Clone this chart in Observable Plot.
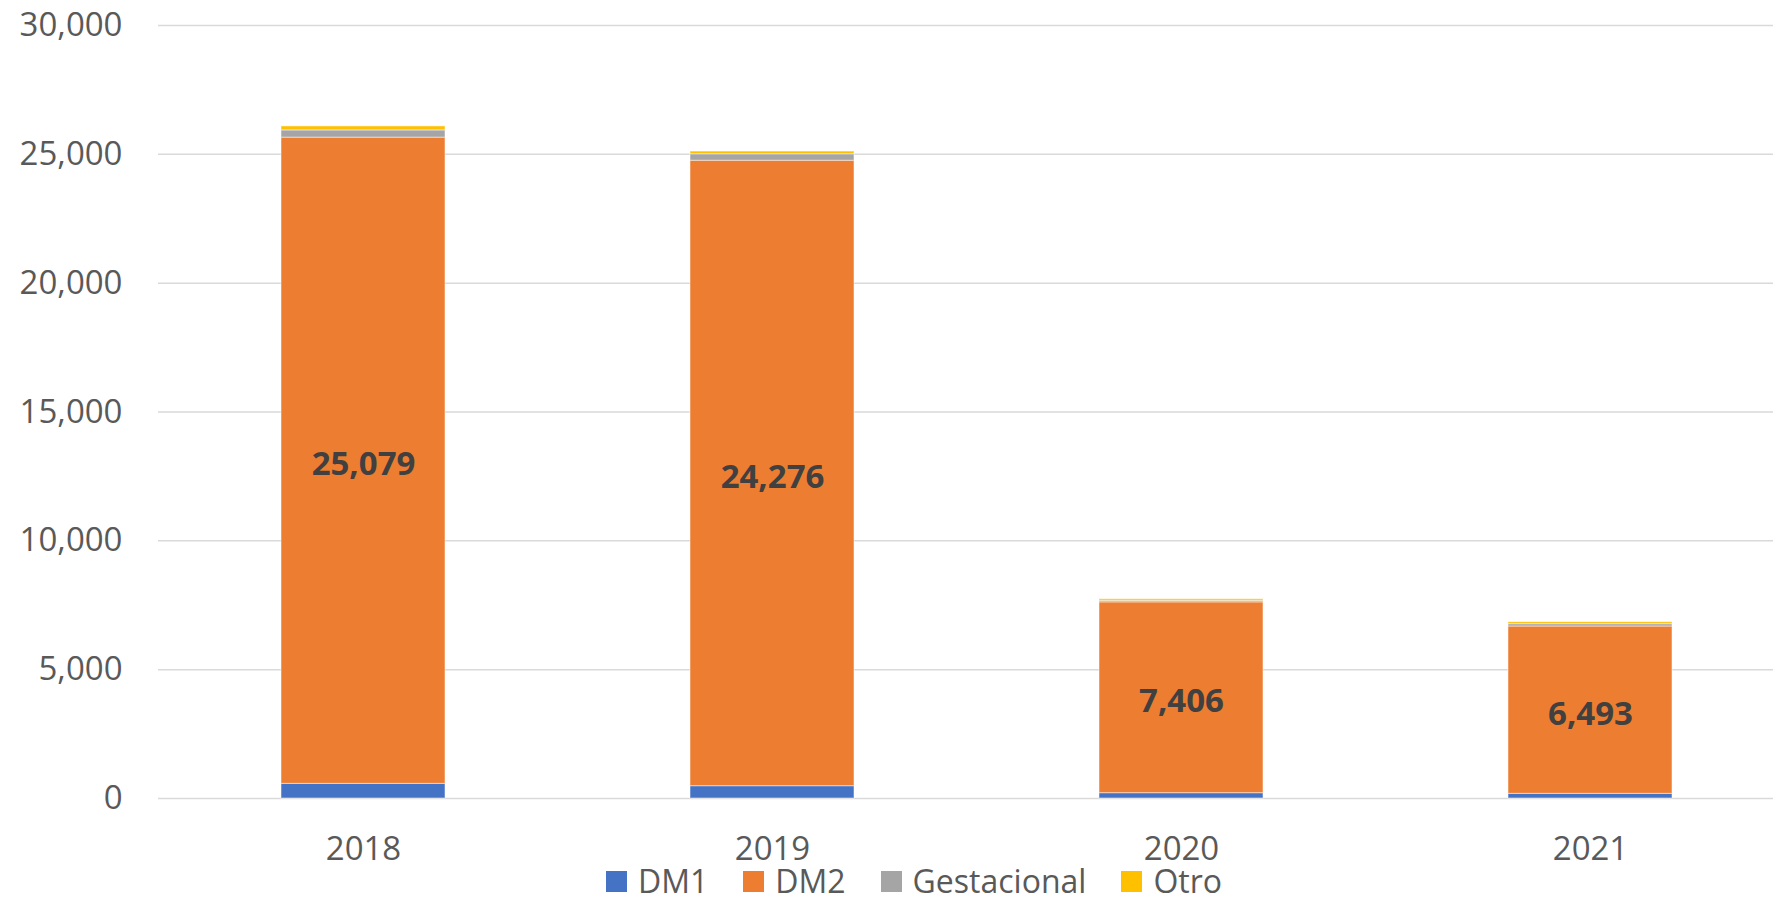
<!DOCTYPE html>
<html><head><meta charset="utf-8">
<script src="https://cdn.jsdelivr.net/npm/d3@7"></script>
<script src="https://cdn.jsdelivr.net/npm/@observablehq/plot@0.6"></script>
<style>
body{margin:0;background:#fff;font-family:"Open Sans",sans-serif;}
#chart{position:relative;width:1776px;height:899px;overflow:hidden;}
#chart svg{position:absolute;top:0;left:0;}
.legend{position:absolute;top:864px;left:606px;height:34px;display:flex;justify-content:flex-start;align-items:center;font-size:32px;line-height:1;color:#595959;white-space:nowrap;}
.item{display:flex;align-items:center;margin-right:35px;}
.sw{display:inline-block;width:21px;height:21px;margin-right:11px;}
</style></head><body><div id="chart"></div>
<script>
const years = ["2018", "2019", "2020", "2021"];
const series = ["DM1", "DM2", "Gestacional", "Otro"];
const dm1 = [570, 477, 206, 182];
const dm2 = [25079, 24276, 7406, 6493];
const gestacional = [280, 250, 60, 90];
const otro = [155, 105, 60, 77];
const colors = ["#4472C4", "#ED7D31", "#A5A5A5", "#FFC000"];
const yTicks = [0, 5000, 10000, 15000, 20000, 25000, 30000];

const values = {DM1: dm1, DM2: dm2, Gestacional: gestacional, Otro: otro};
const rows = years.flatMap((yr, i) => series.map(s => ({year: yr, series: s, value: values[s][i]})));
const labels = years.map((yr, i) => ({year: yr, y: dm1[i] + dm2[i] / 2, text: d3.format(",")(dm2[i])}));

const plot = Plot.plot({
  width: 1776, height: 862,
  marginTop: 25, marginBottom: 64, marginLeft: 158, marginRight: 3,
  style: {fontFamily: '"Open Sans", sans-serif', fontSize: "33px", color: "#595959", background: "white", overflow: "visible"},
  x: {domain: years, range: [157.5, 1795.5], paddingInner: 0.6, paddingOuter: 0.3, label: null},
  y: {domain: [0, 30000], label: null},
  color: {domain: series, range: colors},
  marks: [
    Plot.ruleY(yTicks, {stroke: "#d9d9d9", strokeWidth: 1.5}),
    Plot.barY(rows, {x: "year", y: "value", fill: "series", stroke: "white", strokeOpacity: 0.5, strokeWidth: 1}),
    Plot.text(labels, {x: "year", y: "y", text: "text", dy: 4, fontSize: 33, fontWeight: "bold", fill: "#404040"}),
    Plot.axisY({ticks: yTicks, tickFormat: d3.format(","), tickSize: 0, tickPadding: 36, label: null}),
    Plot.axisX({tickSize: 0, tickPadding: 38, label: null})
  ]
});
const chart = document.getElementById("chart");
chart.appendChild(plot);

const legend = document.createElement("div");
legend.className = "legend";
series.forEach((s, i) => {
  const it = document.createElement("div");
  it.className = "item";
  const sw = document.createElement("span");
  sw.className = "sw";
  sw.style.background = colors[i];
  const tx = document.createElement("span");
  tx.textContent = s;
  it.appendChild(sw); it.appendChild(tx);
  legend.appendChild(it);
});
chart.appendChild(legend);
</script></body></html>
